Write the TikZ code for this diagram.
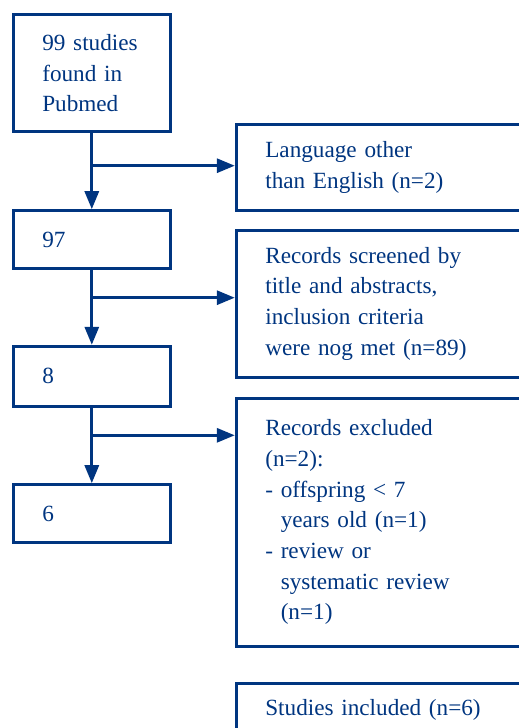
\documentclass[tikz,border=0pt]{standalone}
\usepackage{fontspec}
\setmainfont{Liberation Serif}
\usepackage{tikz}
\usetikzlibrary{positioning}
\usetikzlibrary{arrows.meta}
\usetikzlibrary{calc}
\definecolor{flowblue}{RGB}{0,53,128}
\newcommand{\boxfont}{\fontsize{23.2}{30.7}\selectfont}

\begin{document}
\begin{tikzpicture}[x=1pt,y=1pt,->,>={Triangle[length=18pt,width=14pt]},line width=3pt,draw=flowblue,
	count box/.style={rectangle,draw=flowblue,line width=3pt,text=flowblue,minimum width=157pt,text width=99pt,inner xsep=29pt,align=left,font=\boxfont},
	excl box/.style={count box,minimum width=300pt,text width=242pt}]

	\useasboundingbox (0,0) rectangle (519,-728);
	\clip (0,0) rectangle (519,-728);

	\node[count box,minimum height=117pt,anchor=north west] (found) at (11.8,-13.2) {99 studies\\found in\\Pubmed};
	\node[count box,minimum height=58pt] (n97) [below=76pt of found] {97};
	\node[count box,minimum height=60pt] (n8) [below=74.6pt of n97] {8};
	\node[count box,minimum height=58pt] (n6) [below=75.4pt of n8] {6};

	\node[excl box,minimum height=86.5pt,anchor=north west] (lang) at (234.8,-122.5) {Language other\\than English (n=2)};
	\node[excl box,minimum height=146.7pt] (screen) [below=16.8pt of lang] {Records screened by\\title and abstracts,\\inclusion criteria\\were nog met (n=89)};
	\node[excl box,minimum height=248.3pt] (excl) [below=18pt of screen] {Records excluded\\(n=2):\\- offspring < 7\\\hphantom{- }years old (n=1)\\- review or\\\hphantom{- }systematic review\\\hphantom{- }(n=1)};
	\node[excl box,minimum height=52pt] (incl) [below=34.4pt of excl] {Studies included (n=6)};

	\coordinate (b1) at ($(found.south)+(0,-32.5)$);
	\coordinate (b2) at ($(n97.south)+(0,-27.5)$);
	\coordinate (b3) at ($(n8.south)+(0,-27.5)$);

	\draw (found) -- (n97);
	\draw (n97) -- (n8);
	\draw (n8) -- (n6);
	\draw (b1) -- (b1 -| lang.west);
	\draw (b2) -- (b2 -| screen.west);
	\draw (b3) -- (b3 -| excl.west);
\end{tikzpicture}
\end{document}
